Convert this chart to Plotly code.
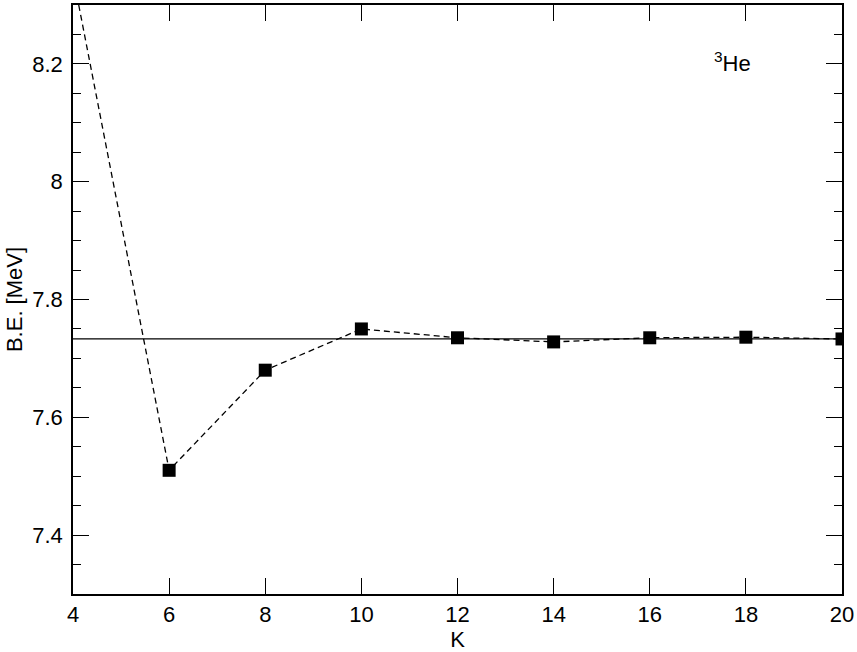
import plotly.graph_objects as go

# hyperspherical K vs binding energy of 3He
k_values = [4, 6, 8, 10, 12, 14, 16, 18, 20]
binding_energy = [8.35, 7.510, 7.680, 7.750, 7.735, 7.728, 7.735, 7.736, 7.733]
converged_be = 7.733

x_ticks = [4, 6, 8, 10, 12, 14, 16, 18, 20]
y_ticks = [7.4, 7.6, 7.8, 8.0, 8.2]
y_tick_text = ["7.4", "7.6", "7.8", "8", "8.2"]

fig = go.Figure()

# converged value as a solid reference line
fig.add_trace(go.Scatter(
    x=[k_values[0], k_values[-1]],
    y=[converged_be, converged_be],
    mode='lines',
    line=dict(color='black', width=1.3),
    showlegend=False,
))

fig.add_trace(go.Scatter(
    x=k_values,
    y=binding_energy,
    mode='lines+markers',
    line=dict(color='black', width=1.3, dash='6px,4px'),
    marker=dict(symbol='square', size=13, color='black'),
    showlegend=False,
))

axis_font = dict(family='Liberation Sans, Arial, sans-serif', size=22, color='black')

fig.update_xaxes(
    range=[4, 20],
    tickvals=x_ticks,
    ticks='inside', ticklen=16, tickwidth=1.3, tickcolor='black',
    showline=True, linecolor='black', linewidth=1.5, mirror='allticks',
    showgrid=False, zeroline=False,
    tickfont=axis_font,
    ticklabelstandoff=0,
    title=dict(text='K', font=axis_font, standoff=6),
)

fig.update_yaxes(
    range=[7.3, 8.3],
    tickvals=y_ticks,
    ticktext=y_tick_text,
    ticks='inside', ticklen=16, tickwidth=1.3, tickcolor='black',
    minor=dict(dtick=0.05, ticks='inside', ticklen=8, tickwidth=1.3, tickcolor='black', showgrid=False),
    showline=True, linecolor='black', linewidth=1.5, mirror='allticks',
    showgrid=False, zeroline=False,
    tickfont=axis_font,
    ticklabelstandoff=4,
    title=dict(text='B.E. [MeV]', font=axis_font, standoff=4),
)

fig.add_annotation(
    x=0.857, y=0.904, xref='paper', yref='paper',
    text='<sup>3</sup>He', showarrow=False,
    font=dict(family='Liberation Sans, Arial, sans-serif', size=22, color='black'),
    xanchor='center', yanchor='middle',
)

fig.update_layout(
    width=857, height=652,
    margin=dict(l=73, r=14, t=3, b=55),
    plot_bgcolor='white',
    paper_bgcolor='white',
)

fig.write_html("out.html", config={'displayModeBar': False},
               post_script="document.body.style.margin='0';")
